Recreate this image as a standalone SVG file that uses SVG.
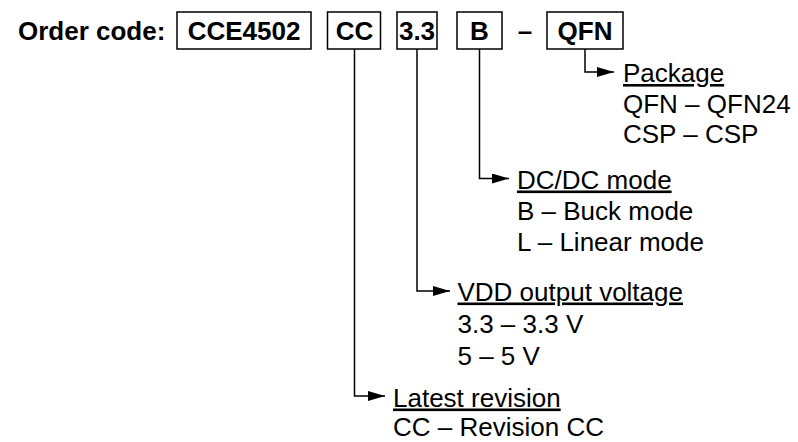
<svg xmlns="http://www.w3.org/2000/svg" width="798" height="442" viewBox="0 0 798 442">
<defs>
<style>
.b{font-family:"Liberation Sans",Arial,sans-serif;font-size:26px;font-weight:bold;fill:#000}
.t{font-family:"Liberation Sans",Arial,sans-serif;font-size:26px;fill:#000}
.u{text-decoration:underline}
.box{fill:#fff;stroke:#000;stroke-width:1.5}
.c{fill:none;stroke:#000;stroke-width:1.5;marker-end:url(#ah)}
</style>
<marker id="ah" markerUnits="userSpaceOnUse" markerWidth="17" markerHeight="10" refX="17" refY="5" orient="auto">
<path d="M0,0 L17,5 L0,10 z" fill="#000"/>
</marker>
</defs>
<rect width="798" height="442" fill="#fff"/>
<g id="label"><text class="b" x="18" y="39.5">Order code:</text></g>
<g id="n-cce4502"><rect class="box" x="177" y="12" width="134" height="37"/><text class="b" x="244" y="39.5" text-anchor="middle">CCE4502</text></g>
<g id="n-cc"><rect class="box" x="327.5" y="12" width="53" height="37"/><text class="b" x="354.5" y="39.5" text-anchor="middle">CC</text></g>
<g id="n-33"><rect class="box" x="397" y="12" width="40" height="37"/><text class="b" x="417" y="39.5" text-anchor="middle">3.3</text></g>
<g id="n-b"><rect class="box" x="457" y="12" width="45" height="37"/><text class="b" x="479.5" y="39.5" text-anchor="middle">B</text></g>
<g id="dash"><text class="b" x="525" y="39.5" text-anchor="middle">–</text></g>
<g id="n-qfn"><rect class="box" x="547" y="12" width="76" height="37"/><text class="b" x="585" y="39.5" text-anchor="middle">QFN</text></g>
<g id="connectors">
<path class="c" d="M585,49 V72 H614"/>
<path class="c" d="M479.5,49 V178.5 H509"/>
<path class="c" d="M417,49 V291 H450"/>
<path class="c" d="M354.5,49 V396 H385"/>
</g>
<g id="n-package">
<text class="t u" x="623" y="82">Package</text>
<text class="t" x="623" y="113">QFN – QFN24</text>
<text class="t" x="623" y="143">CSP – CSP</text>
</g>
<g id="n-dcdc">
<text class="t u" x="517" y="188.5">DC/DC mode</text>
<text class="t" x="517" y="220">B – Buck mode</text>
<text class="t" x="517" y="251">L – Linear mode</text>
</g>
<g id="n-vdd">
<text class="t u" x="457.5" y="300.5">VDD output voltage</text>
<text class="t" x="457.5" y="333">3.3 – 3.3 V</text>
<text class="t" x="457.5" y="364.5">5 – 5 V</text>
</g>
<g id="n-latest">
<text class="t u" x="393" y="406.5">Latest revision</text>
<text class="t" x="393" y="436">CC – Revision CC</text>
</g>
</svg>
